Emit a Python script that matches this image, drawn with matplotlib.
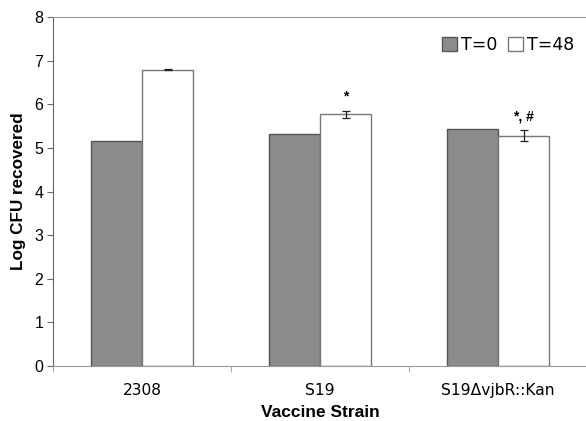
import numpy as np
import matplotlib
matplotlib.use('Agg')
import matplotlib.pyplot as plt

strains = ['2308', 'S19', 'S19\u0394vjbR::Kan']
t0_values = [5.16, 5.32, 5.43]
t48_values = [6.79, 5.77, 5.28]
t48_errors = [0.01, 0.08, 0.12]
marks = ['', '*', '*, #']
series_labels = ['T=0', 'T=48']


def main():
    fig = plt.figure(figsize=(5.86, 4.21), dpi=100)
    ax = fig.add_axes([53 / 586, 55 / 421, 534 / 586, 349 / 421])

    x = np.arange(len(strains)) + 0.5
    width = 0.288

    ax.bar(x - width / 2, t0_values, width, color='#8c8c8c', edgecolor='#555555',
           linewidth=1.0, label=series_labels[0], zorder=2)
    ax.bar(x + width / 2, t48_values, width, color='white', edgecolor='#777777',
           linewidth=1.0, label=series_labels[1], zorder=2)
    ax.errorbar(x + width / 2, t48_values, yerr=t48_errors, fmt='none', ecolor='#222222',
                elinewidth=0.9, capsize=3, capthick=0.9, zorder=3)

    for xi, v, e, m in zip(x, t48_values, t48_errors, marks):
        if m:
            ax.text(xi + width / 2, v + e + 0.33, m, ha='center', va='center',
                    fontsize=10, fontweight='bold', family='Liberation Sans')

    ax.set_xlim(0, 3)
    ax.set_ylim(0, 8)
    ax.set_yticks(range(0, 9))
    ax.set_yticklabels([str(i) for i in range(0, 9)], family='Liberation Sans', fontsize=11.5)
    ax.set_xticks(x)
    ax.set_xticklabels(strains, family='DejaVu Sans', fontsize=11.2)
    ax.tick_params(axis='x', which='major', length=0, pad=12)
    ax.set_xticks([0, 1, 2, 3], minor=True)
    ax.tick_params(axis='x', which='minor', length=4, color='#999999')
    ax.tick_params(axis='y', length=4, color='#666666', pad=3)

    for side in ['top', 'bottom', 'right']:
        ax.spines[side].set_color('#999999')
    ax.spines['left'].set_color('#666666')

    ax.set_ylabel('Log CFU recovered', family='Liberation Sans', fontweight='bold', fontsize=12.3, labelpad=6)
    ax.set_xlabel('Vaccine Strain', family='Liberation Sans', fontweight='bold', fontsize=12.5, labelpad=5)

    ax.legend(loc='upper right', bbox_to_anchor=(1.005, 0.99), ncol=2, frameon=False,
              handlelength=0.9, handleheight=0.9, handletextpad=0.2, columnspacing=0.6,
              prop={'family': 'DejaVu Sans', 'size': 12.5})

    fig.savefig('out.png', dpi=100)


if __name__ == '__main__':
    main()
